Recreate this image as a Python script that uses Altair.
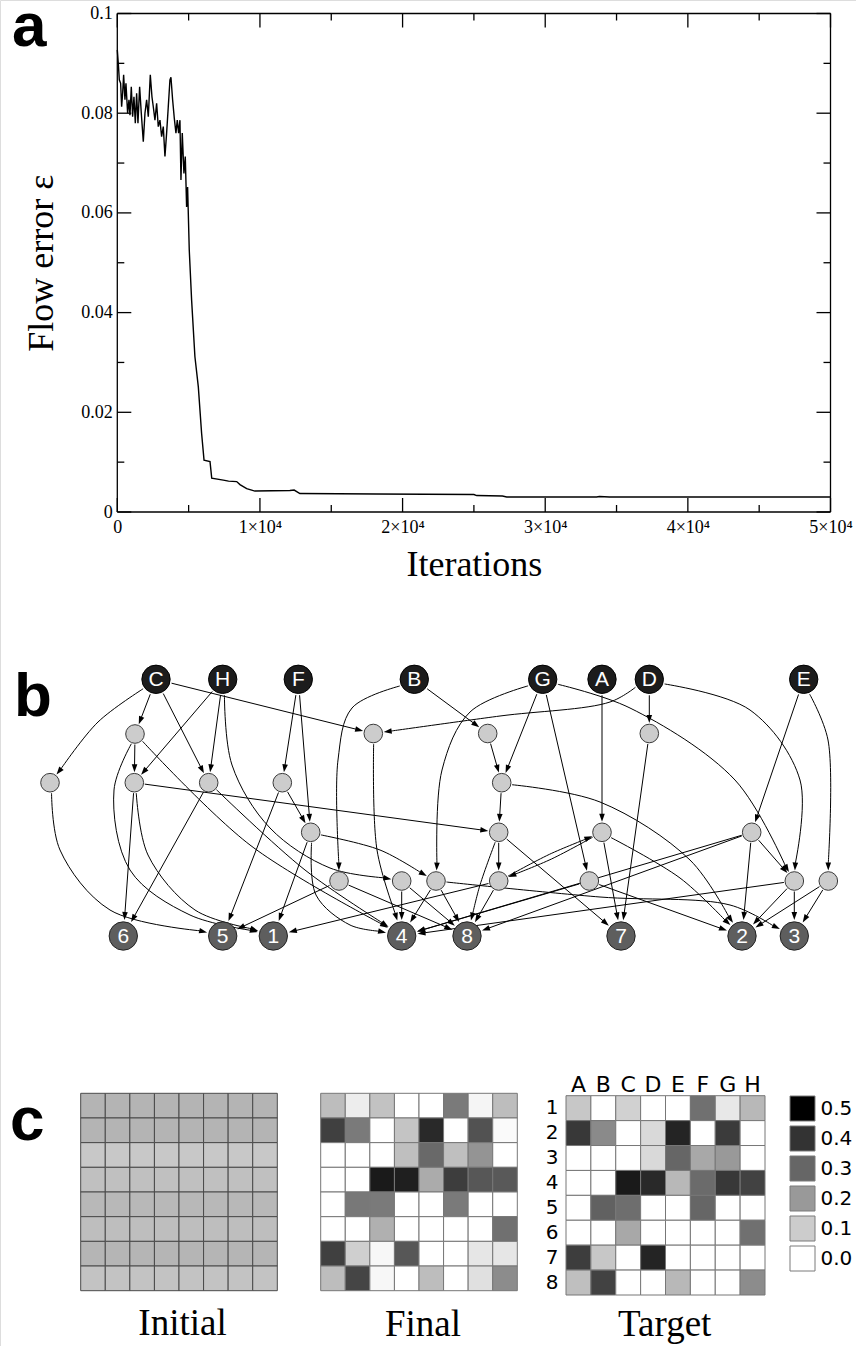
import math
import altair as alt
import pandas as pd

# ---------------- panel a : flow error vs iterations ----------------
iterations = [0, 70, 140, 234, 304, 374, 444, 537, 607, 724, 818, 888, 981, 1075, 1168, 1262,
              1355, 1448, 1565, 1682, 1822, 1939, 2056, 2173, 2313, 2429, 2523, 2640, 2757, 2873,
              2990, 3107, 3224, 3341, 3457, 3574, 3691, 3761, 3878, 3995, 4111, 4205, 4298, 4392,
              4462, 4555, 4672, 4766, 4859, 4929, 5046, 5210, 5440, 5680, 5910, 6080, 6500, 6620,
              7430, 7800, 8370, 8600, 9070, 9650, 12100, 12400, 12800, 18180, 25000, 25200, 27000,
              27300, 33600, 33800, 34500, 50000]
flow_error = [0.0927, 0.0900, 0.0867, 0.0860, 0.0813, 0.0840, 0.0877, 0.0827, 0.0860, 0.0800,
              0.0827, 0.0796, 0.0853, 0.0793, 0.0833, 0.0780, 0.0840, 0.0780, 0.0853, 0.0800,
              0.0743, 0.0800, 0.0827, 0.0793, 0.0877, 0.0833, 0.0813, 0.0786, 0.0820, 0.0773,
              0.0786, 0.0753, 0.0773, 0.0713, 0.0760, 0.0813, 0.0867, 0.0872, 0.0827, 0.0790,
              0.0760, 0.0786, 0.0760, 0.0786, 0.0666, 0.0760, 0.0679, 0.0713, 0.0612, 0.0652,
              0.0525, 0.0425, 0.0312, 0.0251, 0.0158, 0.0104, 0.0101, 0.0068, 0.0064, 0.0062,
              0.0061, 0.0055, 0.0047, 0.0042, 0.0043, 0.0044, 0.0037, 0.0036, 0.0035, 0.0033,
              0.0032, 0.0030, 0.0030, 0.0031, 0.0030, 0.0030]
x_major = [0, 10000, 20000, 30000, 40000, 50000]
x_minor = [5000, 15000, 25000, 35000, 45000]
y_major = [0, 0.02, 0.04, 0.06, 0.08, 0.1]
y_minor = [0.01, 0.03, 0.05, 0.07, 0.09]

# ---------------- panel b : network ----------------
node_name = ["C", "H", "F", "B", "G", "A", "D", "E",
             "g1", "g2", "g3", "g4", "g5", "g6", "g7", "g8", "g9", "g10",
             "g11", "g12", "g13", "g14", "g15", "g16", "g17", "g18", "g19", "g20",
             "t6", "t5", "t1", "t4", "t8", "t7", "t2", "t3"]
node_x = [156, 222.7, 298.3, 414.3, 542.7, 602, 649.3, 803.7,
          135, 373.3, 487.7, 649.3, 50, 134.3, 208.7, 282.3, 501.7, 310.7,
          498.7, 602, 751.7, 339, 401.7, 436, 498.7, 589.3, 794.3, 828.3,
          123.3, 222.7, 273.3, 401.7, 467, 621, 742, 794.3]
node_y = [679.3, 679.3, 679.3, 679.3, 679.3, 679.3, 679.3, 679.3,
          734, 733.5, 733.5, 733.5, 782.7, 782.7, 782.7, 782.7, 782.7, 832.3,
          832.3, 832.3, 832.3, 881, 881, 881, 881, 881, 881, 881,
          936, 936, 936, 936, 936, 936, 936, 936]
node_kind = ["src", "src", "src", "src", "src", "src", "src", "src",
             "mid", "mid", "mid", "mid", "mid", "mid", "mid", "mid", "mid", "mid",
             "mid", "mid", "mid", "mid", "mid", "mid", "mid", "mid", "mid", "mid",
             "dst", "dst", "dst", "dst", "dst", "dst", "dst", "dst"]
node_label = ["C", "H", "F", "B", "G", "A", "D", "E",
              "", "", "", "", "", "", "", "", "", "",
              "", "", "", "", "", "", "", "", "", "",
              "6", "5", "1", "4", "8", "7", "2", "3"]

edge_src = ["C", "C", "C", "C", "H", "H", "H", "F", "F", "B", "B", "G", "G", "G", "G",
            "D", "D", "D", "A", "E", "E", "g1", "g1", "g1", "g5", "g6", "g6", "g6", "g7", "g7",
            "g8", "g8", "g10", "g10", "g10", "g14", "g14", "g15", "g15", "g16", "g16", "g16",
            "g2", "g3", "g4", "g9", "g9", "g11", "g11", "g11", "g12", "g17", "g12", "g12",
            "g17", "g17", "g18", "g18", "g13", "g13", "g13", "g13", "g19", "g19", "g19",
            "g20", "g20"]
edge_dst = ["g5", "g1", "g7", "g2", "g6", "g7", "g15", "g8", "g10", "g14", "g3", "g16", "g9", "g18", "g19",
            "g2", "g4", "g19", "g12", "g13", "g20", "g6", "t1", "t4", "t5", "t6", "t1", "g11", "t6", "t4",
            "t5", "g10", "t1", "t4", "g16", "t5", "t8", "t4", "t8", "t4", "t8", "t3",
            "t4", "g9", "t7", "g11", "t2", "g17", "t8", "t7", "g17", "g12", "t7", "t2",
            "t8", "t1", "t2", "t4", "t2", "g19", "t8", "t4", "t3", "t2", "t4",
            "t3", "t2"]
edge_via = [[(98, 722)], [], [], [], [], [], [(232, 765), (270, 828), (330, 868)], [], [],
            [(352, 708), (338, 760)], [], [(470, 712), (442, 770)], [], [], [(630, 708), (735, 780)],
            [(610, 702), (500, 716)], [], [(750, 710), (800, 780)], [], [], [(828, 740)],
            [], [(114, 790), (130, 870), (190, 915)], [(250, 845)], [(60, 850), (110, 910)], [],
            [(148, 855), (195, 910)], [], [], [(305, 870)],
            [], [], [], [(316, 895), (350, 925)], [(380, 850)], [], [], [], [], [], [],
            [(600, 897), (730, 905)],
            [(377, 850)], [], [], [], [(600, 802), (690, 860)], [], [(480, 885)], [],
            [(551.5, 859)], [(549.3, 854.4)], [], [(680, 878)],
            [], [], [], [], [], [], [], [], [], [], [],
            [], []]

# ---------------- panel c : matrices (rows 1..8, columns A..H) ----------------
col_names = ["A", "B", "C", "D", "E", "F", "G", "H"]
row_names = ["1", "2", "3", "4", "5", "6", "7", "8"]
initial_m = [[0.147, 0.147, 0.147, 0.147, 0.147, 0.147, 0.147, 0.147],
             [0.147, 0.147, 0.147, 0.147, 0.147, 0.147, 0.147, 0.147],
             [0.108, 0.108, 0.108, 0.108, 0.108, 0.108, 0.108, 0.108],
             [0.123, 0.123, 0.123, 0.123, 0.123, 0.123, 0.123, 0.123],
             [0.140, 0.140, 0.140, 0.140, 0.140, 0.140, 0.140, 0.140],
             [0.128, 0.128, 0.128, 0.128, 0.128, 0.128, 0.128, 0.128],
             [0.145, 0.145, 0.145, 0.145, 0.145, 0.145, 0.145, 0.145],
             [0.118, 0.118, 0.118, 0.118, 0.118, 0.118, 0.118, 0.118]]
final_m = [[0.130, 0.035, 0.120, 0.0, 0.0, 0.260, 0.020, 0.130],
           [0.375, 0.260, 0.0, 0.115, 0.420, 0.0, 0.340, 0.010],
           [0.0, 0.0, 0.0, 0.125, 0.295, 0.125, 0.210, 0.0],
           [0.0, 0.0, 0.450, 0.440, 0.165, 0.380, 0.330, 0.325],
           [0.0, 0.265, 0.260, 0.0, 0.0, 0.260, 0.0, 0.0],
           [0.0, 0.0, 0.155, 0.0, 0.0, 0.0, 0.0, 0.280],
           [0.375, 0.095, 0.015, 0.330, 0.0, 0.0, 0.050, 0.050],
           [0.130, 0.365, 0.015, 0.0, 0.130, 0.0, 0.060, 0.225]]
target_m = [[0.110, 0.0, 0.090, 0.0, 0.0, 0.280, 0.045, 0.140],
            [0.390, 0.230, 0.0, 0.075, 0.430, 0.0, 0.385, 0.0],
            [0.0, 0.0, 0.0, 0.075, 0.300, 0.170, 0.200, 0.0],
            [0.0, 0.0, 0.450, 0.420, 0.140, 0.290, 0.390, 0.370],
            [0.0, 0.310, 0.285, 0.0, 0.0, 0.300, 0.0, 0.0],
            [0.0, 0.0, 0.170, 0.0, 0.0, 0.0, 0.0, 0.280],
            [0.380, 0.110, 0.0, 0.430, 0.0, 0.0, 0.0, 0.0],
            [0.125, 0.370, 0.0, 0.0, 0.140, 0.0, 0.0, 0.225]]
legend_values = [0.5, 0.4, 0.3, 0.2, 0.1, 0.0]

# ---------------- annotations ----------------
panel_letter = ["a", "b", "c"]
caption_text = ["Initial", "Final", "Target"]

# ======================= layout / style =======================
W, H = 856, 1346
SERIF = "Liberation Serif"
SANS = "Liberation Sans"
XR = [117.3, 830.5]
YR = [512.0, 13.5]
XD = [0, 50000]
YD = [0, 0.1]
px_it = (XR[1] - XR[0]) / (XD[1] - XD[0])
px_err = (YR[0] - YR[1]) / (YD[1] - YD[0])

xs_a = alt.Scale(domain=XD, range=XR, nice=False, zero=False)
ys_a = alt.Scale(domain=YD, range=YR, nice=False, zero=False)

AX_X = alt.Axis(
    orient="bottom", offset=YR[0] - H, values=x_major, ticks=False, domain=False, grid=False,
    labelExpr="datum.value == 0 ? '0' : format(datum.value / 10000, 'd') + '×10⁴'",
    labelFont=SERIF, labelFontSize=18, labelColor="black", labelPadding=6,
    labelFlush=False, labelOverlap=False,
    title="Iterations", titleFont=SERIF, titleFontSize=36, titleFontWeight="normal",
    titleColor="black", titleX=(XR[0] + XR[1]) / 2, titleY=63, titleBaseline="alphabetic",
    titleAlign="center")
AX_Y = alt.Axis(
    orient="left", offset=-XR[0], values=y_major, ticks=False, domain=False, grid=False,
    format="~g", labelFont=SERIF, labelFontSize=18, labelColor="black", labelPadding=5,
    labelFlush=False, labelOverlap=False,
    title="Flow error ε", titleFont=SERIF, titleFontSize=36, titleFontWeight="normal",
    titleColor="black", titleX=52 - XR[0], titleY=(YR[0] + YR[1]) / 2,
    titleBaseline="alphabetic", titleAlign="center", titleAngle=270)

line_df = pd.DataFrame({"it": iterations, "err": flow_error})
frame_rows = [dict(it=XD[0], it2=XD[1], err=YD[0], err2=YD[0]),
              dict(it=XD[0], it2=XD[1], err=YD[1], err2=YD[1]),
              dict(it=XD[0], it2=XD[0], err=YD[0], err2=YD[1]),
              dict(it=XD[1], it2=XD[1], err=YD[0], err2=YD[1])]
for vals, L in ((x_major, 14), (x_minor, 7)):
    for v in vals:
        frame_rows.append(dict(it=v, it2=v, err=YD[0], err2=YD[0] + L / px_err))
        frame_rows.append(dict(it=v, it2=v, err=YD[1], err2=YD[1] - L / px_err))
for vals, L in ((y_major, 14), (y_minor, 7)):
    for v in vals:
        frame_rows.append(dict(it=XD[0], it2=XD[0] + L / px_it, err=v, err2=v))
        frame_rows.append(dict(it=XD[1], it2=XD[1] - L / px_it, err=v, err2=v))
frame_df = pd.DataFrame(frame_rows)

line_a = alt.Chart(line_df).mark_line(color="black", strokeWidth=1.4).encode(
    x=alt.X("it:Q", scale=xs_a, axis=AX_X),
    y=alt.Y("err:Q", scale=ys_a, axis=AX_Y),
)
frame_a = alt.Chart(frame_df).mark_rule(color="black", strokeWidth=1.3).encode(
    x=alt.X("it:Q", scale=xs_a, axis=AX_X), x2="it2:Q",
    y=alt.Y("err:Q", scale=ys_a, axis=AX_Y), y2="err2:Q",
)
panel_a = alt.layer(frame_a, line_a)

# ---------------- network geometry ----------------
RAD = {"src": 16, "mid": 10.5, "dst": 16}
pos = {n: (x, y) for n, x, y in zip(node_name, node_x, node_y)}
kind = {n: k for n, k in zip(node_name, node_kind)}
edge_pts, arrows = [], []
for i, (s, t, via) in enumerate(zip(edge_src, edge_dst, edge_via)):
    sx, sy = pos[s]
    tx, ty = pos[t]
    route = [(sx, sy)] + list(via) + [(tx, ty)]
    nx, ny = route[1]
    dx, dy = nx - sx, ny - sy
    d = math.hypot(dx, dy)
    start = (sx + dx / d * RAD[kind[s]], sy + dy / d * RAD[kind[s]])
    qx, qy = route[-2]
    dx, dy = tx - qx, ty - qy
    d = math.hypot(dx, dy)
    ux, uy = dx / d, dy / d
    tip = (tx - ux * RAD[kind[t]], ty - uy * RAD[kind[t]])
    end = (tip[0] - ux * 7, tip[1] - uy * 7)
    pts = [start] + list(via) + [end]
    for k, (x, y) in enumerate(pts):
        edge_pts.append(dict(eid=i, k=k, px=x, py=y))
    arrows.append(dict(px=tip[0] - ux * 4, py=tip[1] - uy * 4,
                       ang=math.degrees(math.atan2(ux, -uy)) % 360))
edge_df = pd.DataFrame(edge_pts)
arrow_df = pd.DataFrame(arrows)
node_df = pd.DataFrame({"px": node_x, "py": node_y, "kind": node_kind, "label": node_label})

xs_p = alt.Scale(domain=[0, W], range=[0, W], nice=False, zero=False)
ys_p = alt.Scale(domain=[0, H], range=[0, H], nice=False, zero=False)
PX = alt.X("px:Q", scale=xs_p, axis=None)
PY = alt.Y("py:Q", scale=ys_p, axis=None)

edges = alt.Chart(edge_df).mark_line(color="black", strokeWidth=1, interpolate="catmull-rom").encode(
    x=PX, y=PY, detail="eid:N", order="k:Q")
heads = alt.Chart(arrow_df).mark_point(
    shape="M0,-1L0.7,1L-0.7,1Z", filled=True, color="black", size=64, opacity=1).encode(
    x=PX, y=PY, angle=alt.Angle("ang:Q", scale=None))
src_nodes = alt.Chart(node_df).transform_filter("datum.kind == 'src'").mark_circle(
    size=math.pi * 16 ** 2, color="#1c1c1c", stroke="#000000", strokeWidth=1, opacity=1).encode(x=PX, y=PY)
mid_nodes = alt.Chart(node_df).transform_filter("datum.kind == 'mid'").mark_circle(
    size=math.pi * 10.5 ** 2, color="#cccccc", stroke="#3a3a3a", strokeWidth=1, opacity=1).encode(x=PX, y=PY)
dst_nodes = alt.Chart(node_df).transform_filter("datum.kind == 'dst'").mark_circle(
    size=math.pi * 16 ** 2, color="#5e5e5e", stroke="#222222", strokeWidth=1, opacity=1).encode(x=PX, y=PY)
node_text = alt.Chart(node_df).transform_filter("datum.label != ''").mark_text(
    font=SANS, fontSize=21, color="white", baseline="middle", align="center", dy=1).encode(
    x=PX, y=PY, text="label:N")

letters_df = pd.DataFrame({"t": panel_letter, "px": [12, 14, 10], "py": [46, 716, 1140]})
letters = alt.Chart(letters_df).mark_text(
    font=SANS, fontWeight="bold", fontSize=62, color="black", align="left", baseline="alphabetic").encode(
    x=PX, y=PY, text="t:N")
caps_df = pd.DataFrame({"t": caption_text, "px": [182.5, 423, 664.7], "py": [1335, 1336, 1336]})
captions = alt.Chart(caps_df).mark_text(
    font=SERIF, fontSize=37, color="black", align="center", baseline="alphabetic").encode(
    x=PX, y=PY, text="t:N")

network = alt.layer(edges, heads, src_nodes, mid_nodes, dst_nodes, node_text, letters, captions)

# ---------------- heatmaps ----------------
def long(m):
    return pd.DataFrame([{"r": row_names[i], "c": col_names[j], "v": m[i][j]}
                         for i in range(8) for j in range(8)])

LEG = alt.Legend(type="symbol", values=legend_values, orient="none",
                 legendX=789.5, legendY=1095.5, title=None,
                 symbolType="square", symbolSize=625,
                 symbolStrokeColor="#7a7a7a", symbolStrokeWidth=1,
                 symbolOpacity=1, format=".1f", labelFont="DejaVu Sans",
                 labelFontSize=20, labelColor="black", labelOffset=5,
                 rowPadding=0, padding=0)
color_enc = alt.Color("v:Q", scale=alt.Scale(domain=[0, 0.5], range=["white", "black"],
                                             interpolate="rgb", clamp=True), legend=LEG)


def heat(m, xr, yr, stroke, axes=False):
    if axes:
        xa = alt.Axis(orient="top", offset=-yr[0], domain=False, ticks=False, grid=False,
                      labelAngle=0, labelFont="DejaVu Sans", labelFontSize=22, labelColor="black",
                      labelPadding=4, labelBaseline="alphabetic", title=None)
        ya = alt.Axis(orient="left", offset=-xr[0], domain=False, ticks=False, grid=False,
                      labelFont="DejaVu Sans", labelFontSize=20, labelColor="black",
                      labelPadding=8, title=None)
    else:
        xa = None
        ya = None
    return alt.Chart(long(m)).mark_rect(stroke=stroke, strokeWidth=1).encode(
        x=alt.X("c:O", scale=alt.Scale(domain=col_names, range=xr, paddingInner=0, paddingOuter=0),
                axis=xa),
        y=alt.Y("r:O", scale=alt.Scale(domain=row_names, range=yr, paddingInner=0, paddingOuter=0),
                axis=ya),
        color=color_enc,
    )


h_init = heat(initial_m, [80.7, 277.3], [1093.3, 1290.7], "#4a4a4a")
h_final = heat(final_m, [320.7, 517.3], [1093.3, 1290.7], "#777777")
h_target = heat(target_m, [566, 765], [1095.7, 1295], "#777777", axes=True)

chart = alt.layer(panel_a, network, h_init, h_final, h_target).resolve_scale(
    x="independent", y="independent"
).properties(
    width=W, height=H, autosize=alt.AutoSizeParams(type="none"), padding=0
).configure_view(stroke=None).configure(background="white")

chart.save("out.html", embed_options={"renderer": "svg", "actions": False})
